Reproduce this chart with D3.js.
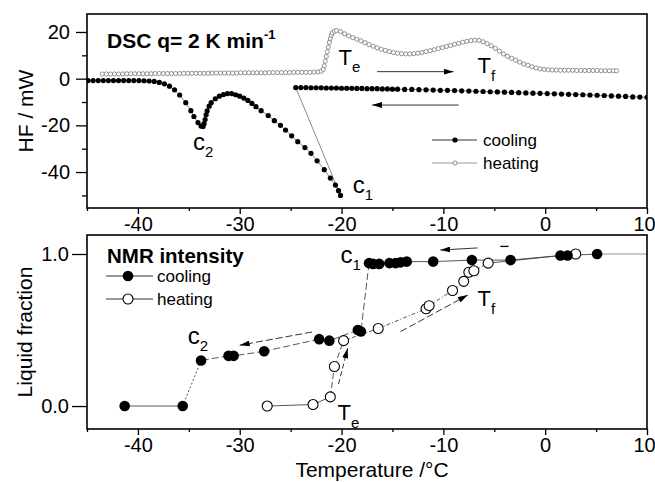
<!DOCTYPE html>
<html><head><meta charset="utf-8">
<script src="https://cdn.jsdelivr.net/npm/d3@7"></script>
<style>
body{margin:0;background:#fff;}
svg{display:block;font-family:"Liberation Sans",Arial,sans-serif;}
</style></head>
<body>
<svg id="chart" width="655" height="482"></svg>
<script>
// ---------- DATA ----------
const xTicks = [-40, -30, -20, -10, 0, 10];
const xMinorTicks = [-45, -35, -25, -15, -5, 5];
const dscYTicks = [-40, -20, 0, 20];
const dscYMinorTicks = [-50, -30, -10, 10];
const nmrYTicks = [0, 1];

// DSC cooling (T, HF) in measurement order (from +10 downward)
const dscCooling = [
 [10.0,-8.0],[9.3,-7.9],[8.6,-7.8],[7.9,-7.6],[7.2,-7.5],[6.5,-7.4],[5.8,-7.2],[5.1,-7.1],[4.4,-7.0],[3.7,-6.9],
 [3.0,-6.8],[2.3,-6.7],[1.6,-6.6],[0.9,-6.5],[0.2,-6.4],[-0.5,-6.3],[-1.2,-6.2],[-1.9,-6.1],[-2.6,-6.0],[-3.3,-5.9],
 [-4.0,-5.8],[-4.7,-5.7],[-5.4,-5.6],[-6.1,-5.5],[-6.8,-5.4],[-7.5,-5.3],[-8.2,-5.2],[-8.9,-5.1],[-9.6,-5.0],[-10.3,-5.0],
 [-11.0,-4.9],[-11.7,-4.8],[-12.4,-4.7],[-13.1,-4.6],[-13.8,-4.6],[-14.5,-4.5],[-15.0,-4.5],[-15.5,-4.4],[-16.0,-4.4],
 [-16.5,-4.3],[-17.0,-4.3],[-17.5,-4.3],[-18.0,-4.2],[-18.5,-4.2],[-19.0,-4.1],[-19.5,-4.1],[-20.0,-4.1],[-20.5,-4.0],
 [-21.0,-4.0],[-21.5,-4.0],[-22.0,-3.9],[-22.5,-3.9],[-23.0,-3.9],[-23.5,-3.8],[-24.0,-3.8],[-24.5,-3.8],
 [-20.1,-50.0],[-20.3,-48.0],[-20.6,-45.6],[-21.1,-42.6],[-21.7,-39.0],[-22.4,-35.2],[-23.0,-32.0],[-23.6,-29.5],
 [-24.3,-27.0],[-24.9,-24.5],[-25.5,-22.0],[-26.0,-20.0],[-26.6,-18.0],[-27.2,-15.8],[-27.9,-13.7],[-28.4,-12.0],
 [-28.8,-10.6],[-29.2,-9.3],[-29.6,-8.3],[-30.0,-7.5],[-30.4,-6.9],[-30.8,-6.4],[-31.2,-6.4],[-31.6,-6.8],[-32.0,-7.5],
 [-32.4,-8.6],[-32.8,-10.3],[-33.0,-11.8],[-33.2,-13.8],[-33.3,-15.5],[-33.4,-17.5],[-33.5,-19.3],[-33.6,-20.5],
 [-33.8,-20.3],[-34.1,-18.8],[-34.5,-16.2],[-34.8,-13.7],[-35.3,-10.3],[-35.9,-7.0],[-36.4,-4.8],[-36.9,-3.2],
 [-37.4,-2.2],[-37.9,-1.6],[-38.4,-1.2],[-38.9,-1.0],[-39.4,-0.9],[-39.9,-0.8],[-40.4,-0.8],[-40.9,-0.8],[-41.4,-0.8],
 [-41.9,-0.8],[-42.4,-0.8],[-42.9,-0.8],[-43.4,-0.8],[-43.9,-0.8],[-44.4,-0.8],[-44.9,-0.8]
];

// DSC heating (T, HF)
const dscHeating = [
 [-43.5,2.0],[-43.1,2.0],[-42.7,2.0],[-42.3,2.0],[-41.9,2.0],[-41.5,2.0],[-41.1,2.1],[-40.7,2.1],[-40.3,2.1],[-39.9,2.1],
 [-39.5,2.1],[-39.1,2.1],[-38.7,2.1],[-38.3,2.2],[-37.9,2.2],[-37.5,2.2],[-37.1,2.2],[-36.7,2.2],[-36.3,2.2],[-35.9,2.2],
 [-35.5,2.3],[-35.1,2.3],[-34.7,2.3],[-34.3,2.3],[-33.9,2.3],[-33.5,2.3],[-33.1,2.3],[-32.7,2.4],[-32.3,2.4],[-31.9,2.4],
 [-31.5,2.4],[-31.1,2.4],[-30.7,2.4],[-30.3,2.4],[-29.9,2.5],[-29.5,2.5],[-29.1,2.5],[-28.7,2.5],[-28.3,2.5],[-27.9,2.5],
 [-27.5,2.5],[-27.1,2.6],[-26.7,2.6],[-26.3,2.6],[-25.9,2.6],[-25.5,2.6],[-25.1,2.6],[-24.7,2.7],[-24.3,2.7],[-23.9,2.7],
 [-23.5,2.7],[-23.1,2.7],[-22.7,2.8],[-22.3,2.9],[-22.0,3.2],[-21.8,4.0],[-21.7,5.5],[-21.6,7.5],[-21.5,9.5],[-21.4,11.5],
 [-21.3,13.5],[-21.2,15.5],[-21.1,17.2],[-21.0,18.6],[-20.9,19.6],[-20.7,20.3],[-20.5,20.6],[-20.1,20.2],[-19.7,19.2],
 [-19.3,18.3],[-18.9,17.6],[-18.5,16.9],[-18.1,16.2],[-17.7,15.4],[-17.3,14.6],[-16.9,13.9],[-16.5,13.2],[-16.1,12.6],
 [-15.7,12.1],[-15.3,11.6],[-14.9,11.2],[-14.5,10.9],[-14.1,10.7],[-13.7,10.6],[-13.3,10.6],[-12.9,10.7],[-12.5,10.9],
 [-12.1,11.2],[-11.7,11.6],[-11.3,12.0],[-10.9,12.4],[-10.5,12.9],[-10.1,13.3],[-9.7,13.8],[-9.3,14.2],[-8.9,14.7],
 [-8.5,15.1],[-8.1,15.6],[-7.7,16.0],[-7.3,16.3],[-6.9,16.5],[-6.5,16.4],[-6.1,15.8],[-5.7,15.0],[-5.3,14.1],[-4.9,13.0],
 [-4.5,11.8],[-4.1,10.6],[-3.7,9.6],[-3.3,8.7],[-2.9,7.9],[-2.5,7.1],[-2.1,6.3],[-1.7,5.7],[-1.3,5.1],[-0.9,4.6],
 [-0.5,4.2],[-0.1,4.0],[0.3,3.8],[0.7,3.7],[1.1,3.7],[1.5,3.6],[1.9,3.6],[2.3,3.6],[2.7,3.6],[3.1,3.5],[3.5,3.5],
 [3.9,3.5],[4.3,3.5],[4.7,3.5],[5.1,3.5],[5.5,3.4],[5.9,3.4],[6.3,3.4],[6.7,3.4],[7.0,3.4]
];

// NMR liquid fraction, cooling (T, fraction) in measurement order
const nmrCooling = [
 [5.1,1.00],[2.2,0.99],[1.5,0.99],[-3.4,0.96],[-7.2,0.96],[-11.0,0.95],[-13.6,0.95],[-14.2,0.945],[-14.7,0.94],
 [-15.3,0.94],[-16.3,0.935],[-16.9,0.935],[-17.3,0.94],[-18.1,0.49],[-18.4,0.50],[-21.2,0.43],[-22.2,0.44],
 [-27.6,0.36],[-30.6,0.33],[-31.1,0.33],[-33.8,0.30],[-35.6,0.00],[-41.3,0.00]
];
// NMR liquid fraction, heating (T, fraction)
const nmrHeating = [
 [-27.3,0.00],[-22.8,0.01],[-21.1,0.06],[-20.7,0.26],[-19.8,0.43],[-16.4,0.51],[-11.7,0.64],[-11.4,0.66],
 [-9.1,0.76],[-8.0,0.82],[-7.5,0.88],[-7.0,0.89],[-5.6,0.94],[3.0,1.00]
];

// ---------- LAYOUT ----------
const svg = d3.select("#chart");
const X0 = 87, X1 = 647;
const pTop = {y0: 14, y1: 208};
const pBot = {y0: 235, y1: 429};

const x = d3.scaleLinear().domain([-45, 10]).range([X0, X1]);
const yD = d3.scaleLinear().domain([-55.4, 27.7]).range([pTop.y1, pTop.y0]);
const yN = d3.scaleLinear().domain([-0.151, 1.125]).range([pBot.y1, pBot.y0]);

const fmt = d => String(d).replace("\u2212", "-");
const FS = 20;

function styleAxis(g){
  g.select(".domain").remove();
  g.selectAll(".tick line").attr("stroke","#000").attr("stroke-width",1.3);
  g.selectAll(".tick text").attr("font-size",FS).attr("fill","#000")
    .attr("font-family","Liberation Sans, Arial, sans-serif");
}
function nudgeLast(g){
  g.selectAll(".tick text").filter(d => d === 10).attr("dx", -3);
}

const defs = svg.append("defs");
defs.append("marker").attr("id","ah").attr("viewBox","0 0 10 6").attr("refX",10).attr("refY",3)
  .attr("markerWidth",10).attr("markerHeight",6).attr("markerUnits","userSpaceOnUse").attr("orient","auto")
  .append("path").attr("d","M0,0 L10,3 L0,6 Z").attr("fill","#000");
defs.append("clipPath").attr("id","clipTop").append("rect")
  .attr("x",X0).attr("y",pTop.y0).attr("width",X1-X0).attr("height",pTop.y1-pTop.y0);
defs.append("clipPath").attr("id","clipBot").append("rect")
  .attr("x",X0).attr("y",pBot.y0).attr("width",X1-X0).attr("height",pBot.y1-pBot.y0);

// ---------- TOP PANEL (DSC) ----------
svg.append("g").attr("transform",`translate(0,${pTop.y1})`)
  .call(d3.axisBottom(x).tickValues(xTicks).tickSize(6).tickPadding(3).tickFormat(fmt)).call(styleAxis).call(nudgeLast);
svg.append("g").attr("transform",`translate(0,${pTop.y1})`)
  .call(d3.axisBottom(x).tickValues(xMinorTicks).tickSize(3).tickFormat("")).call(styleAxis);
svg.append("g").attr("transform",`translate(${X0},0)`)
  .call(d3.axisLeft(yD).tickValues(dscYTicks).tickSize(11).tickPadding(6).tickFormat(fmt)).call(styleAxis);
svg.append("g").attr("transform",`translate(${X0},0)`)
  .call(d3.axisLeft(yD).tickValues(dscYMinorTicks).tickSize(5).tickFormat("")).call(styleAxis);

const gTop = svg.append("g").attr("clip-path","url(#clipTop)");
const lineD = d3.line().x(d=>x(d[0])).y(d=>yD(d[1]));

gTop.append("path").datum(dscHeating).attr("d",lineD).attr("fill","none").attr("stroke","#888").attr("stroke-width",0.8);
gTop.selectAll("circle.h").data(dscHeating).join("circle").attr("class","h")
  .attr("cx",d=>x(d[0])).attr("cy",d=>yD(d[1])).attr("r",2.1)
  .attr("fill","#fff").attr("stroke","#777").attr("stroke-width",0.8);
gTop.append("path").datum(dscCooling).attr("d",lineD).attr("fill","none").attr("stroke","#555").attr("stroke-width",0.7);
gTop.selectAll("circle.c").data(dscCooling).join("circle").attr("class","c")
  .attr("cx",d=>x(d[0])).attr("cy",d=>yD(d[1])).attr("r",2.6).attr("fill","#000");

svg.append("rect").attr("x",X0).attr("y",pTop.y0).attr("width",X1-X0).attr("height",pTop.y1-pTop.y0)
  .attr("fill","none").attr("stroke","#000").attr("stroke-width",1.6);

svg.append("text").attr("transform",`translate(33,${(pTop.y0+pTop.y1)/2}) rotate(-90)`)
  .attr("text-anchor","middle").attr("font-size",21).text("HF / mW");

const t1 = svg.append("text").attr("x",107).attr("y",48).attr("font-size",21).attr("font-weight","bold");
t1.append("tspan").text("DSC q= 2 K min");
t1.append("tspan").attr("font-size",13).attr("dy",-9).text("-1");

function subLabel(g, xp, yp, main, sub, fsMain, fsSub, dsub){
  const t = g.append("text").attr("x",xp).attr("y",yp).attr("font-size",fsMain);
  t.append("tspan").text(main);
  t.append("tspan").attr("font-size",fsSub).attr("dy",dsub).text(sub);
}
subLabel(svg, x(-34.6), yD(-30.6), "c", "2", 24, 15, 7);
subLabel(svg, x(-18.9), yD(-49), "c", "1", 24, 15, 7);
subLabel(svg, x(-20.3), yD(5.9), "T", "e", 22, 15, 7);
subLabel(svg, x(-6.65), yD(2.4), "T", "f", 22, 15, 8);

const arrowsTop = [ {from:[-16.5,3.0], to:[-9.0,3.0]}, {from:[-8.5,-11.3], to:[-17.0,-11.3]} ];
arrowsTop.forEach(a=>{
  svg.append("line").attr("x1",x(a.from[0])).attr("y1",yD(a.from[1])).attr("x2",x(a.to[0])).attr("y2",yD(a.to[1]))
    .attr("stroke","#333").attr("stroke-width",1).attr("marker-end","url(#ah)");
});

const legTop = [{name:"cooling", y:140, filled:true},{name:"heating", y:163, filled:false}];
legTop.forEach(l=>{
  svg.append("line").attr("x1",432).attr("x2",477).attr("y1",l.y).attr("y2",l.y)
    .attr("stroke", l.filled? "#333":"#999").attr("stroke-width",1);
  svg.append("circle").attr("cx",455).attr("cy",l.y).attr("r",l.filled?2.6:2.1)
    .attr("fill",l.filled?"#000":"#fff").attr("stroke",l.filled?"none":"#777").attr("stroke-width",0.8);
  svg.append("text").attr("x",483).attr("y",l.y+6).attr("font-size",17).text(l.name);
});

// ---------- BOTTOM PANEL (NMR) ----------
svg.append("g").attr("transform",`translate(0,${pBot.y1})`)
  .call(d3.axisBottom(x).tickValues(xTicks).tickSize(6).tickPadding(3).tickFormat(fmt)).call(styleAxis).call(nudgeLast);
svg.append("g").attr("transform",`translate(0,${pBot.y1})`)
  .call(d3.axisBottom(x).tickValues(xMinorTicks).tickSize(3).tickFormat("")).call(styleAxis);
svg.append("g").attr("transform",`translate(${X0},0)`)
  .call(d3.axisLeft(yN).tickValues(nmrYTicks).tickSize(15).tickPadding(3).tickFormat(d3.format(".1f"))).call(styleAxis);

const gBot = svg.append("g").attr("clip-path","url(#clipBot)");
function segs(data, dashFn){
  for(let i=0;i<data.length-1;i++){
    gBot.append("line").attr("x1",x(data[i][0])).attr("y1",yN(data[i][1]))
      .attr("x2",x(data[i+1][0])).attr("y2",yN(data[i+1][1]))
      .attr("stroke","#444").attr("stroke-width",0.9).attr("stroke-dasharray",dashFn(i));
  }
}
segs(nmrHeating, i => (i<=1 || i>=12) ? null : (i===2||i===3 ? "6,3" : "4,2,1,2"));
segs(nmrCooling, i => (i<=5 || i>=21) ? null : (i>=6 && i<=11 ? null : (i===20 ? "2,2" : "7,3")));
gBot.append("line").attr("x1",x(nmrCooling[0][0])).attr("y1",yN(nmrCooling[0][1]))
  .attr("x2",x(10)).attr("y2",yN(nmrCooling[0][1])).attr("stroke","#888").attr("stroke-width",0.9);

gBot.selectAll("circle.nh").data(nmrHeating).join("circle").attr("class","nh")
  .attr("cx",d=>x(d[0])).attr("cy",d=>yN(d[1])).attr("r",5)
  .attr("fill","#fff").attr("stroke","#000").attr("stroke-width",1.1);
gBot.selectAll("circle.nc").data(nmrCooling).join("circle").attr("class","nc")
  .attr("cx",d=>x(d[0])).attr("cy",d=>yN(d[1])).attr("r",5.3).attr("fill","#000");

svg.append("rect").attr("x",X0).attr("y",pBot.y0).attr("width",X1-X0).attr("height",pBot.y1-pBot.y0)
  .attr("fill","none").attr("stroke","#000").attr("stroke-width",1.6);

svg.append("text").attr("transform",`translate(32,${(pBot.y0+pBot.y1)/2}) rotate(-90)`)
  .attr("text-anchor","middle").attr("font-size",21).text("Liquid fraction");
svg.append("text").attr("x",372).attr("y",477).attr("text-anchor","middle").attr("font-size",21).text("Temperature /°C");

svg.append("text").attr("x",107).attr("y",263).attr("font-size",20.5).attr("font-weight","bold").text("NMR intensity");

const legBot = [{name:"cooling", y:276, filled:true},{name:"heating", y:299, filled:false}];
legBot.forEach(l=>{
  svg.append("line").attr("x1",106).attr("x2",153).attr("y1",l.y).attr("y2",l.y).attr("stroke","#333").attr("stroke-width",1);
  svg.append("circle").attr("cx",128).attr("cy",l.y).attr("r",l.filled?5.3:5)
    .attr("fill",l.filled?"#000":"#fff").attr("stroke","#000").attr("stroke-width",l.filled?0:1.1);
  svg.append("text").attr("x",157).attr("y",l.y+6).attr("font-size",17).text(l.name);
});

subLabel(svg, x(-35.1), yN(0.41), "c", "2", 24, 15, 7);
subLabel(svg, x(-20.1), yN(0.94), "c", "1", 24, 15, 7);
subLabel(svg, x(-6.65), yN(0.66), "T", "f", 22, 15, 8);
subLabel(svg, x(-20.4), yN(-0.09), "T", "e", 22, 15, 8);

const arrowsBot = [
  {from:[-6.65,1.04], to:[-10.3,1.026], dash:null},
  {from:[-22.9,0.487], to:[-30.0,0.40], dash:"7,3"},
  {from:[-14.2,0.49], to:[-7.6,0.73], dash:"7,3"},
  {from:[-20.3,0.145], to:[-19.4,0.38], dash:"5,3"}
];
arrowsBot.forEach(a=>{
  svg.append("line").attr("x1",x(a.from[0])).attr("y1",yN(a.from[1])).attr("x2",x(a.to[0])).attr("y2",yN(a.to[1]))
    .attr("stroke","#333").attr("stroke-width",1).attr("stroke-dasharray",a.dash).attr("marker-end","url(#ah)");
});
svg.append("line").attr("x1",x(-4.4)).attr("x2",x(-3.6)).attr("y1",yN(1.05)).attr("y2",yN(1.05))
  .attr("stroke","#000").attr("stroke-width",1.3);
</script>
</body></html>
